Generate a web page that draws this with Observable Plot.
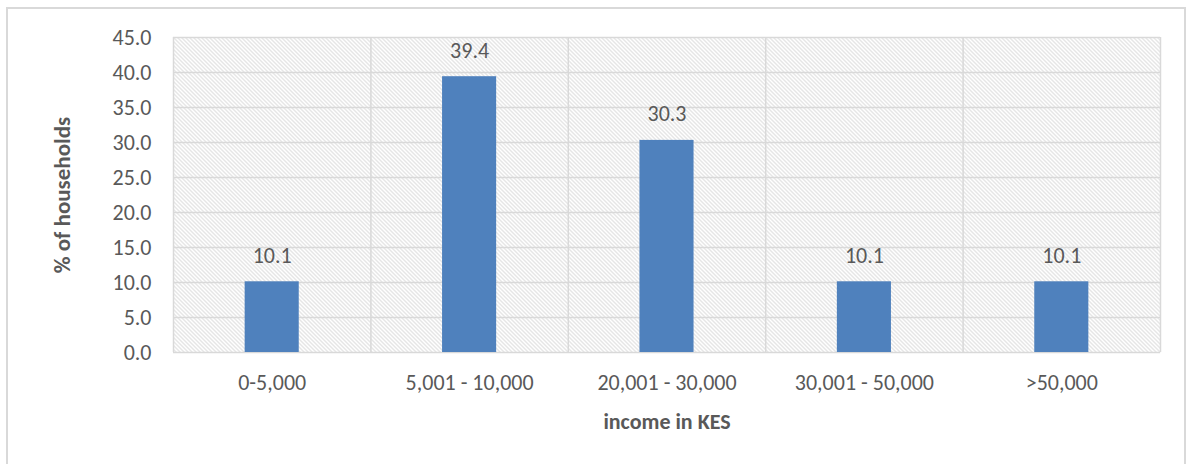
<!DOCTYPE html>
<html>
<head>
<meta charset="utf-8">
<script src="https://cdn.jsdelivr.net/npm/d3@7"></script>
<script src="https://cdn.jsdelivr.net/npm/@observablehq/plot@0.6"></script>
<style>
  html, body { margin: 0; padding: 0; background: #fff; }
  #wrap { position: relative; width: 1189px; height: 464px; overflow: hidden; }
  #border { position: absolute; left: 6px; top: 7px; width: 1176px; height: 480px; border: 2px solid #d9d9d9; pointer-events: none; }
  svg { display: block; }
</style>
</head>
<body>
<div id="wrap"><div id="chart"></div><div id="border"></div></div>
<script>
const categories = ["0-5,000", "5,001 - 10,000", "20,001 - 30,000", "30,001 - 50,000", ">50,000"];
const values = [10.1, 39.4, 30.3, 10.1, 10.1];
const yTicks = [0, 5, 10, 15, 20, 25, 30, 35, 40, 45];
const xTitle = "income in KES";
const yTitle = "% of households";

const data = categories.map((c, i) => ({cat: c, i, v: values[i]}));
const half = 0.137;
const font = "Carlito, Lato, 'Open Sans', sans-serif";
const textColor = "#595959";
const fs = 22;

const chart = Plot.plot({
  width: 1189,
  height: 464,
  marginLeft: 173,
  marginRight: 29,
  marginTop: 37,
  marginBottom: 112,
  style: {fontFamily: font, color: textColor, background: "transparent"},
  x: {domain: [0, categories.length]},
  y: {domain: [0, 45]},
  marks: [
    Plot.frame({fill: "url(#hatch)", stroke: "none"}),
    Plot.ruleX(d3.range(categories.length + 1), {stroke: "#d9d9d9", strokeWidth: 1.5, strokeOpacity: 1}),
    Plot.ruleY(yTicks, {stroke: "#d9d9d9", strokeWidth: 1.5, strokeOpacity: 1}),
    Plot.rectY(data, {x1: d => d.i + 0.5 - half, x2: d => d.i + 0.5 + half, y1: 0, y2: "v", fill: "#4f81bd"}),
    Plot.text(data, {x: d => d.i + 0.5, y: "v", text: d => d.v.toFixed(1), dy: -26, fontSize: fs, fill: textColor}),
    Plot.axisY({ticks: yTicks, tickFormat: d => d.toFixed(1), tickSize: 0, tickPadding: 22, fontSize: fs, label: null, fill: textColor}),
    Plot.axisX({ticks: data.map(d => d.i + 0.5), tickFormat: t => categories[Math.floor(t)], tickSize: 0, tickPadding: 22, fontSize: fs, label: null, fill: textColor}),
    Plot.text([xTitle], {frameAnchor: "bottom", dy: 76, text: d => d, fontSize: 22, fontWeight: "bold", fill: textColor}),
    Plot.text([yTitle], {frameAnchor: "left", textAnchor: "middle", dx: -111, rotate: -90, text: d => d, fontSize: 23, fontWeight: "bold", fill: textColor})
  ]
});

const ns = "http://www.w3.org/2000/svg";
const defs = document.createElementNS(ns, "defs");
defs.innerHTML = `<pattern id="hatch" patternUnits="userSpaceOnUse" width="4" height="4">
  <rect width="4" height="4" fill="#ffffff"/>
  <path d="M-1,-1 L5,5 M-1,3 L1,5 M3,-1 L5,1" stroke="#cccccc" stroke-width="1"/>
</pattern>`;
chart.insertBefore(defs, chart.firstChild);
document.getElementById("chart").appendChild(chart);
</script>
</body>
</html>
